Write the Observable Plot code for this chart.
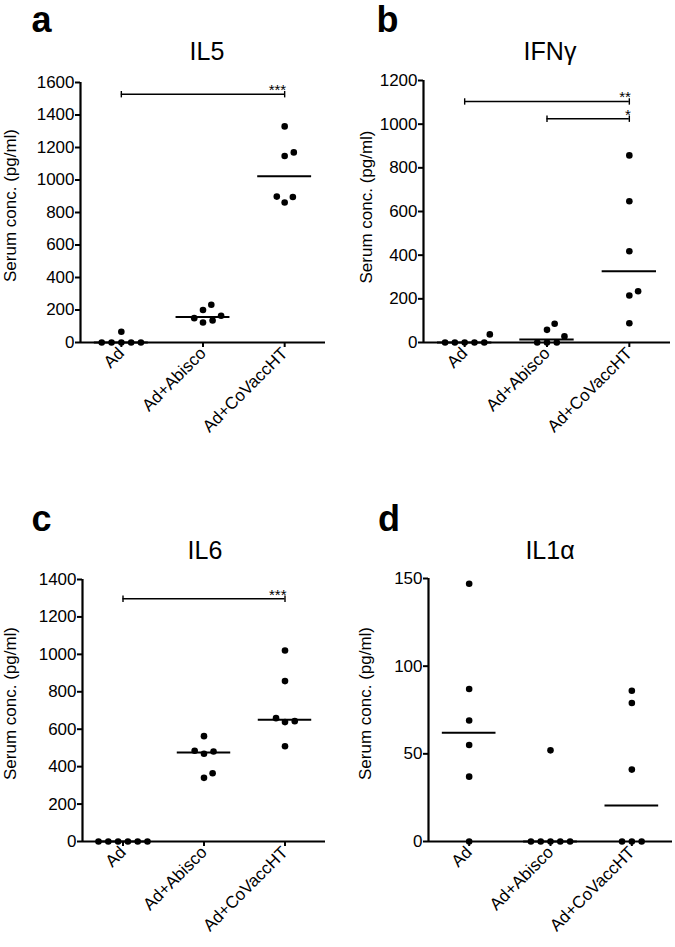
<!DOCTYPE html>
<html><head><meta charset="utf-8">
<script src="https://cdn.jsdelivr.net/npm/d3@7"></script>
<script src="https://cdn.jsdelivr.net/npm/@observablehq/plot@0.6"></script>
<style>
body{margin:0;background:#fff;}
#root{position:relative;width:675px;height:947px;font-family:"Liberation Sans",Arial,sans-serif;color:#000;background:#fff;overflow:hidden;}
.panel{position:absolute;}
.letter{position:absolute;font-weight:bold;font-size:36px;line-height:36px;}
.title{position:absolute;font-size:25px;line-height:25px;transform:translateX(-50%);white-space:nowrap;}
</style></head><body><div id="root"></div>
<script>
// ---- data ----
const groups = ["Ad", "Ad+Abisco", "Ad+CoVaccHT"];
const yLabel = "Serum conc. (pg/ml)";

const il5Ad = [0, 0, 0, 0, 0, 66];
const il5Abisco = [232, 200, 165, 150, 135, 123];
const il5CoVacc = [1330, 1170, 1148, 898, 895, 862];
const il5Ticks = [0, 200, 400, 600, 800, 1000, 1200, 1400, 1600];
const il5Sig = [{from: 0, to: 2, y: 1528, label: "***"}];

const ifnAd = [0, 0, 0, 0, 0, 37];
const ifnAbisco = [86, 58, 28, 0, 0, 0];
const ifnCoVacc = [857, 647, 418, 235, 215, 88];
const ifnTicks = [0, 200, 400, 600, 800, 1000, 1200];
const ifnSig = [{from: 0, to: 2, y: 1104, label: "**"}, {from: 1, to: 2, y: 1025, label: "*"}];

const il6Ad = [0, 0, 0, 0, 0, 0];
const il6Abisco = [563, 485, 481, 469, 365, 340];
const il6CoVacc = [1021, 857, 659, 643, 638, 509];
const il6Ticks = [0, 200, 400, 600, 800, 1000, 1200, 1400];
const il6Sig = [{from: 0, to: 2, y: 1297, label: "***"}];

const il1Ad = [147, 87, 69, 55, 37, 0];
const il1Abisco = [52, 0, 0, 0, 0, 0];
const il1CoVacc = [86, 79, 41, 0, 0, 0];
const il1Ticks = [0, 50, 100, 150];
const il1Sig = [];

// ---- layout ----
const root = document.getElementById("root");
const FONT = "'Liberation Sans', Arial, sans-serif";
const vtick = {draw(ctx, size) { const h = Math.sqrt(size / Math.PI); ctx.moveTo(0, -h); ctx.lineTo(0, h); }};

function addText(cls, txt, left, top) {
  const d = document.createElement("div");
  d.className = cls; d.textContent = txt;
  d.style.left = left + "px"; d.style.top = top + "px";
  root.appendChild(d);
}

function panel(cfg) {
  const {left, top, width, height, mL, mR, mT, mB, yMax, yTicks, series, sig, labelDx, labelDy} = cfg;
  const frameW = width - mL - mR, frameH = height - mT - mB;
  const step = frameW / groups.length;
  const kY = frameH / yMax;
  const D = 9.8;
  const pts = [];
  const meds = [];
  series.forEach((vals, gi) => {
    meds.push({g: gi, m: d3.median(vals)});
    const sorted = vals.slice().sort((a, b) => a - b);
    const counts = d3.rollup(sorted, v => v.length, d => d);
    const done = new Set();
    const placed = [];
    for (const v of sorted) {
      const py = v * kY;
      const n = counts.get(v);
      if (n > 1) {
        if (done.has(v)) continue;
        done.add(v);
        for (let k = 0; k < n; k++) placed.push({v, px: (k - (n - 1) / 2) * D, py});
        continue;
      }
      const near = placed.filter(p => Math.abs(p.py - py) < D);
      const cands = [0];
      for (const p of near) {
        const t = Math.sqrt(D * D - (p.py - py) ** 2);
        cands.push(p.px + t, p.px - t);
      }
      cands.sort((a, b) => Math.abs(a) - Math.abs(b) || b - a);
      const ok = cands.find(c => near.every(p => (p.px - c) ** 2 + (p.py - py) ** 2 >= D * D - 1e-6));
      placed.push({v, px: ok, py});
    }
    for (const p of placed) pts.push({x: gi + p.px / step, y: p.v});
  });
  const caps = sig.flatMap(s => [{x: s.from, y: s.y}, {x: s.to, y: s.y}]);

  const chart = Plot.plot({
    width, height,
    marginLeft: mL, marginRight: mR, marginTop: mT, marginBottom: mB,
    x: {domain: [-0.5, groups.length - 0.5], label: null},
    y: {domain: [0, yMax], label: null},
    style: {fontFamily: FONT, fontSize: "17px", color: "black", background: "white", overflow: "visible"},
    marks: [
      Plot.axisY({ticks: yTicks, tickFormat: d => String(d), tickSize: 5, tickPadding: 1, strokeWidth: 2, fontSize: 17, label: null}),
      Plot.axisX({ticks: [0, 1, 2], tickFormat: i => groups[i], tickRotate: -45, tickSize: 5, tickPadding: 3, strokeWidth: 2, fontSize: 17, label: null}),
      Plot.ruleY([0], {stroke: "black", strokeWidth: 2.2}),
      Plot.ruleX([-0.5], {y1: 0, y2: yMax, stroke: "black", strokeWidth: 2.2}),
      Plot.ruleY(sig, {x1: "from", x2: "to", y: "y", stroke: "black", strokeWidth: 1.4}),
      Plot.dot(caps, {x: "x", y: "y", symbol: vtick, r: 3.2, stroke: "black", fill: "none", strokeWidth: 1.4}),
      Plot.text(sig, {x: "to", y: "y", text: "label", textAnchor: "end", lineAnchor: "bottom", fontSize: 15, dy: 1, dx: 1.5}),
      Plot.ruleY(meds, {x1: d => d.g - 0.33, x2: d => d.g + 0.33, y: "m", stroke: "black", strokeWidth: 2}),
      Plot.dot(pts, {x: "x", y: "y", r: 3.3, fill: "black", stroke: "none"}),
      Plot.text([yLabel], {frameAnchor: "left", textAnchor: "middle", lineAnchor: "middle", rotate: -90, dx: labelDx, dy: labelDy, fontSize: 17})
    ]
  });
  const wrap = document.createElement("div");
  wrap.className = "panel";
  wrap.style.left = left + "px"; wrap.style.top = top + "px";
  wrap.style.width = width + "px"; wrap.style.height = height + "px";
  wrap.appendChild(chart);
  root.appendChild(wrap);
}

panel({left: 0, top: 70, width: 337, height: 370, mL: 80, mR: 12, mT: 12, mB: 98, yMax: 1600, yTicks: il5Ticks,
  series: [il5Ad, il5Abisco, il5CoVacc], sig: il5Sig, labelDx: -70, labelDy: -7});
panel({left: 337, top: 70, width: 338, height: 370, mL: 86, mR: 5, mT: 10, mB: 98, yMax: 1200, yTicks: ifnTicks,
  series: [ifnAd, ifnAbisco, ifnCoVacc], sig: ifnSig, labelDx: -56.5, labelDy: -4.5});
panel({left: 0, top: 570, width: 337, height: 370, mL: 82, mR: 12, mT: 9, mB: 99, yMax: 1400, yTicks: il6Ticks,
  series: [il6Ad, il6Abisco, il6CoVacc], sig: il6Sig, labelDx: -72.4, labelDy: -7});
panel({left: 337, top: 570, width: 338, height: 370, mL: 91, mR: 3, mT: 8, mB: 99, yMax: 150, yTicks: il1Ticks,
  series: [il1Ad, il1Abisco, il1CoVacc], sig: il1Sig, labelDx: -63.4, labelDy: -6.5});

addText("letter", "a", 31.5, 1.5);
addText("letter", "b", 376.5, 1.5);
addText("letter", "c", 31.5, 500.5);
addText("letter", "d", 378, 500.5);
addText("title", "IL5", 207, 38.8);
addText("title", "IFNγ", 550, 38.8);
addText("title", "IL6", 205, 537.8);
addText("title", "IL1α", 550, 537.8);
</script></body></html>
